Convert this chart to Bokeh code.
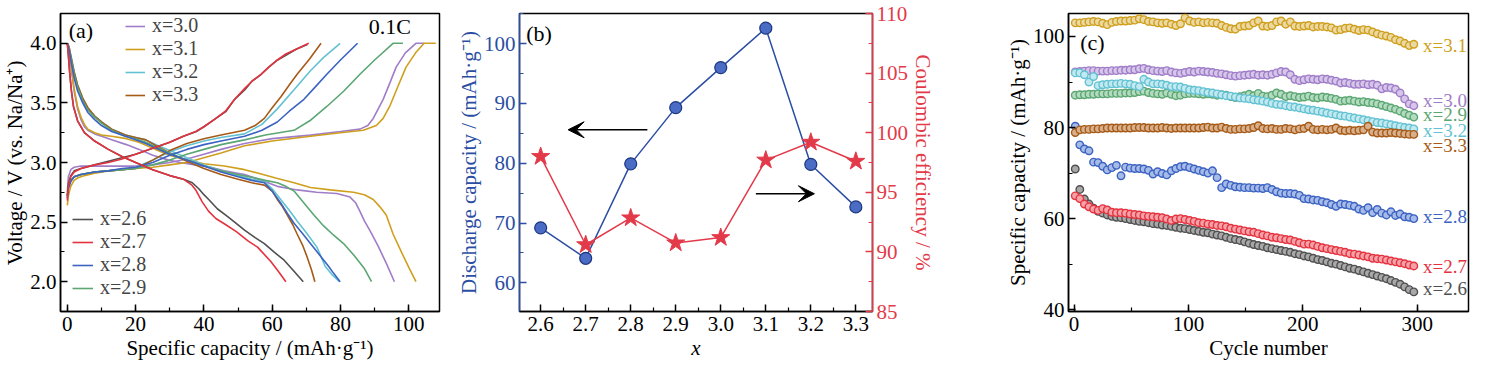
from bokeh.plotting import figure
from bokeh.layouts import row
from bokeh.models import (Range1d, LinearAxis, SingleIntervalTicker, FixedTicker,
                          PrintfTickFormatter, Legend, LegendItem, Arrow, VeeHead)
from bokeh.core.properties import value
from bokeh.embed import file_html
from bokeh.resources import INLINE

FONT = "Liberation Serif"

# ---------------- data: panel (a) charge / discharge curves ----------------
series_a = ["2.6", "2.7", "2.8", "2.9", "3.0", "3.1", "3.2", "3.3"]

chg_cap_26 = [0, 0.3, 1, 2, 4, 8, 12, 16, 20, 25, 30, 34, 37.8, 40, 43, 46.5, 49, 52, 54, 56.8, 59, 61.6, 64, 67, 70.3]
chg_v_26 = [2.72, 2.82, 2.89, 2.93, 2.95, 2.98, 3.01, 3.04, 3.07, 3.12, 3.17, 3.22, 3.26, 3.30, 3.36, 3.43, 3.53, 3.61, 3.68, 3.74, 3.80, 3.86, 3.90, 3.95, 3.99]
chg_cap_27 = [0, 0.3, 1, 2, 4, 8, 12, 16, 20, 25, 30, 34, 37.6, 40, 43, 46.3, 49, 51.9, 54, 56.7, 59, 61.5, 64, 67, 70.7]
chg_v_27 = [2.68, 2.80, 2.88, 2.92, 2.95, 2.98, 3.00, 3.03, 3.07, 3.12, 3.17, 3.22, 3.26, 3.30, 3.36, 3.43, 3.53, 3.62, 3.68, 3.74, 3.80, 3.86, 3.91, 3.95, 4.00]
chg_cap_28 = [0, 0.3, 1, 2, 4, 8, 12, 16, 20, 25, 30, 35, 40, 45, 51.9, 57, 61.5, 65, 69.3, 72.5, 76, 80, 85]
chg_v_28 = [2.70, 2.78, 2.84, 2.88, 2.90, 2.92, 2.93, 2.95, 2.96, 3.00, 3.06, 3.11, 3.15, 3.18, 3.22, 3.27, 3.34, 3.43, 3.53, 3.63, 3.74, 3.86, 4.00]
chg_cap_29 = [0, 0.3, 1, 2, 4, 8, 12, 16, 20, 25, 30, 35, 40, 45, 51.9, 58, 66.4, 71, 76, 81, 85.7, 90, 95.4, 98.3]
chg_v_29 = [2.72, 2.80, 2.85, 2.88, 2.90, 2.92, 2.93, 2.94, 2.95, 2.98, 3.02, 3.07, 3.11, 3.15, 3.19, 3.23, 3.27, 3.35, 3.47, 3.60, 3.74, 3.86, 4.00, 4.00]
chg_cap_30 = [0, 0.3, 1, 2, 4, 8, 12, 16, 20, 25, 30, 35, 40, 45, 51.9, 60, 71.2, 80, 85.7, 88, 89.6, 92.5, 94.5, 96.3, 99, 102.1, 104.5]
chg_v_30 = [2.75, 2.88, 2.94, 2.96, 2.97, 2.97, 2.97, 2.97, 2.97, 2.98, 3.00, 3.03, 3.07, 3.11, 3.16, 3.20, 3.23, 3.26, 3.28, 3.31, 3.37, 3.53, 3.67, 3.80, 3.92, 4.00, 4.00]
chg_cap_31 = [0, 0.3, 1, 2, 3, 5, 8, 12, 16, 20, 25, 30, 35, 40, 45, 51.9, 60, 71.2, 80, 86.7, 90.5, 92.5, 94.4, 97, 99.2, 102, 104.5, 107.9]
chg_v_31 = [2.64, 2.72, 2.80, 2.85, 2.87, 2.89, 2.91, 2.93, 2.94, 2.95, 2.96, 2.98, 3.00, 3.04, 3.08, 3.14, 3.18, 3.22, 3.25, 3.27, 3.31, 3.37, 3.47, 3.65, 3.80, 3.92, 4.00, 4.00]
chg_cap_32 = [0, 0.3, 1, 2, 4, 8, 12, 16, 20, 25, 30, 35, 40, 45, 51.9, 57, 61.5, 66.4, 71.2, 75, 79.9]
chg_v_32 = [2.70, 2.78, 2.84, 2.88, 2.90, 2.92, 2.93, 2.94, 2.96, 3.02, 3.09, 3.14, 3.18, 3.21, 3.24, 3.32, 3.45, 3.61, 3.77, 3.88, 4.00]
chg_cap_33 = [0, 0.3, 1, 2, 4, 8, 12, 16, 20, 25, 30, 35, 40, 45, 51.9, 55, 57.7, 60, 62.5, 65, 67.3, 71, 74.3]
chg_v_33 = [2.72, 2.80, 2.85, 2.88, 2.90, 2.92, 2.93, 2.94, 2.95, 3.02, 3.10, 3.16, 3.20, 3.23, 3.27, 3.31, 3.37, 3.46, 3.55, 3.65, 3.74, 3.87, 4.00]

dis_cap_26 = [0, 0.3, 0.7, 1.2, 1.8, 3, 5, 8, 12, 16, 20, 25, 30, 34, 36.6, 38.5, 40, 41.4, 44, 46.3, 49, 52, 55, 57.7, 60.5, 63.5, 66, 69.1]
dis_v_26 = [4.00, 3.90, 3.75, 3.60, 3.47, 3.35, 3.25, 3.18, 3.11, 3.05, 3.00, 2.94, 2.89, 2.86, 2.83, 2.78, 2.73, 2.69, 2.61, 2.56, 2.50, 2.43, 2.37, 2.32, 2.25, 2.18, 2.10, 2.00]
dis_cap_27 = [0, 0.3, 0.7, 1.2, 1.8, 3, 5, 8, 12, 16, 20, 25, 30, 34, 36.5, 37.6, 39.5, 41.4, 43.5, 46.3, 49.5, 53, 55.7, 59.6, 62, 64]
dis_v_27 = [4.00, 3.90, 3.75, 3.60, 3.47, 3.35, 3.25, 3.18, 3.11, 3.05, 3.00, 2.94, 2.89, 2.86, 2.81, 2.77, 2.67, 2.59, 2.53, 2.48, 2.42, 2.34, 2.29, 2.17, 2.08, 2.00]
dis_cap_28 = [0, 0.5, 1, 2, 3, 4.5, 6, 8, 10, 13, 17, 20, 23, 26, 30, 35, 40, 45, 50, 54, 57.7, 60, 62.5, 64.5, 66.4, 69, 71.2, 74, 76.5, 78, 79.9]
dis_v_28 = [4.00, 3.95, 3.86, 3.71, 3.60, 3.50, 3.42, 3.36, 3.31, 3.26, 3.22, 3.19, 3.16, 3.12, 3.07, 3.02, 2.97, 2.92, 2.88, 2.85, 2.83, 2.76, 2.66, 2.57, 2.49, 2.40, 2.32, 2.22, 2.13, 2.07, 2.00]
dis_cap_29 = [0, 0.5, 1, 2, 3, 4.5, 6, 8, 10, 13, 17, 20, 23, 26, 30, 35, 40, 45, 50, 55, 58, 61.5, 64, 66.4, 69, 72.2, 75, 78, 80.9, 84, 87, 89.1]
dis_v_29 = [4.00, 3.96, 3.88, 3.74, 3.63, 3.52, 3.44, 3.38, 3.33, 3.27, 3.22, 3.20, 3.17, 3.13, 3.08, 3.02, 2.97, 2.93, 2.90, 2.87, 2.85, 2.83, 2.80, 2.76, 2.67, 2.56, 2.47, 2.39, 2.32, 2.22, 2.11, 2.00]
dis_cap_30 = [0, 0.5, 1, 2, 3, 4, 5, 6, 8, 10, 13, 17.3, 21, 25, 29.7, 33, 37.4, 42, 46, 51.9, 56, 61.5, 67.3, 73, 78.9, 82.8, 84.5, 85.7, 87, 88.6, 91, 93.5, 95.8]
dis_v_30 = [4.00, 3.93, 3.82, 3.60, 3.45, 3.36, 3.30, 3.27, 3.24, 3.22, 3.19, 3.15, 3.11, 3.06, 3.02, 3.00, 2.98, 2.96, 2.93, 2.90, 2.86, 2.80, 2.77, 2.75, 2.74, 2.71, 2.66, 2.59, 2.51, 2.43, 2.30, 2.15, 2.00]
dis_cap_31 = [0, 0.5, 1, 2, 3, 4, 5, 6, 8, 10, 13, 17.3, 21, 25.8, 30, 35, 40, 46, 51.9, 56, 61, 66.4, 71.2, 77, 83.8, 87, 89.6, 91.5, 93.4, 95.4, 98, 100, 102.1]
dis_v_31 = [4.00, 3.94, 3.84, 3.62, 3.47, 3.38, 3.32, 3.28, 3.25, 3.23, 3.22, 3.20, 3.17, 3.11, 3.06, 3.02, 2.99, 2.97, 2.94, 2.91, 2.87, 2.83, 2.79, 2.77, 2.75, 2.73, 2.69, 2.63, 2.56, 2.40, 2.24, 2.12, 2.00]
dis_cap_32 = [0, 0.5, 1, 2, 3, 4.5, 6, 8, 10, 13, 17, 20, 23, 26, 30, 35, 40, 45, 50, 54, 57.7, 60, 62.5, 65, 67.3, 70, 73.1, 75.5, 77.5, 79.7]
dis_v_32 = [4.00, 3.97, 3.90, 3.76, 3.65, 3.54, 3.46, 3.39, 3.34, 3.28, 3.23, 3.21, 3.19, 3.15, 3.10, 3.04, 2.98, 2.93, 2.89, 2.86, 2.84, 2.78, 2.69, 2.60, 2.51, 2.41, 2.29, 2.13, 2.06, 2.00]
dis_cap_33 = [0, 0.5, 1, 2, 3, 4.5, 6, 8, 10, 13, 17, 20, 23, 26, 30, 35, 40, 45, 50, 54, 57.7, 60, 61.5, 63, 64.4, 66, 67.3, 69, 70.2, 71.5, 72.5]
dis_v_33 = [4.00, 3.97, 3.90, 3.76, 3.65, 3.54, 3.46, 3.39, 3.34, 3.28, 3.23, 3.21, 3.19, 3.14, 3.08, 3.01, 2.95, 2.90, 2.86, 2.83, 2.81, 2.76, 2.69, 2.63, 2.56, 2.48, 2.40, 2.30, 2.21, 2.10, 2.00]

# ---------------- data: panel (b) ----------------
x_b = [2.6, 2.7, 2.8, 2.9, 3.0, 3.1, 3.2, 3.3]
discharge_capacity = [69.2, 64.1, 79.9, 89.3, 96.0, 102.6, 79.8, 72.7]
coulombic_eff = [98.0, 90.6, 92.85, 90.75, 91.2, 97.7, 99.2, 97.6]

# ---------------- data: panel (c) cycling ----------------
cycles = list(range(1, 298, 4))
cyc_26 = [70.9, 66.4, 64.3, 63.2, 62.3, 61.6, 61.2, 60.8, 60.5, 60.3, 60.2, 60.0, 59.8, 59.6, 59.4, 59.3, 59.1, 58.9, 58.8, 58.6,
          58.5, 58.3, 58.1, 57.9, 57.8, 57.6, 57.4, 57.2, 57.0, 56.9, 56.6, 56.4, 56.2, 55.9, 55.6, 55.4, 55.2, 54.9, 54.6, 54.3,
          54.1, 53.9, 53.6, 53.4, 53.2, 53.0, 52.8, 52.6, 52.3, 52.1, 51.8, 51.6, 51.3, 51.0, 50.8, 50.5, 50.2, 50.0, 49.7, 49.4,
          49.1, 48.9, 48.6, 48.3, 48.0, 47.7, 47.4, 47.1, 46.8, 46.4, 46.0, 45.6, 45.0, 44.4, 43.9]
cyc_27 = [65.0, 64.4, 63.2, 62.6, 62.1, 61.8, 62.2, 61.9, 61.4, 61.3, 61.3, 61.2, 61.0, 60.9, 60.8, 60.6, 60.5, 60.4, 60.3, 60.2,
          59.9, 59.6, 59.9, 60.0, 59.8, 59.6, 59.4, 59.1, 59.0, 58.8, 58.7, 58.5, 58.4, 58.2, 57.9, 57.7, 57.5, 57.3, 57.1, 57.0,
          56.7, 56.4, 56.2, 55.9, 55.8, 55.6, 55.4, 55.3, 55.0, 54.7, 54.4, 54.4, 54.2, 53.9, 53.6, 53.4, 53.2, 53.0, 52.8, 52.6,
          52.3, 52.2, 52.0, 51.8, 51.6, 51.3, 51.2, 51.1, 50.9, 50.7, 50.5, 50.3, 50.1, 49.8, 49.6]
cyc_28 = [80.3, 76.2, 75.3, 74.9, 72.4, 72.3, 71.5, 70.7, 71.2, 71.7, 69.4, 71.3, 71.1, 71.0, 71.0, 70.9, 70.6, 69.8, 70.3, 69.9,
          69.6, 70.5, 71.0, 71.4, 71.5, 71.2, 70.9, 70.6, 70.3, 70.0, 70.5, 69.0, 66.8, 67.6, 67.3, 67.0, 66.9, 66.8, 66.8, 66.7,
          66.7, 66.6, 66.8, 66.4, 65.9, 65.6, 65.5, 65.5, 65.4, 65.1, 64.4, 64.3, 64.1, 64.0, 63.7, 63.5, 63.1, 62.7, 63.2, 63.1,
          62.9, 62.7, 62.1, 61.8, 62.4, 61.3, 62.0, 61.2, 60.8, 61.5, 60.7, 61.0, 60.4, 60.3, 60.0]
cyc_29 = [87.1, 87.2, 87.2, 87.3, 87.3, 87.4, 87.4, 87.4, 87.5, 87.5, 87.5, 87.6, 87.6, 87.7, 87.9, 88.0, 87.7, 87.5, 87.4, 87.3,
          87.6, 87.3, 87.0, 87.1, 87.4, 87.5, 87.5, 87.4, 87.3, 87.4, 87.3, 87.1, 87.2, 87.1, 86.8, 86.6, 86.8, 87.0, 87.3, 87.0,
          87.5, 86.9, 86.8, 87.1, 87.6, 87.3, 86.8, 87.0, 86.8, 86.6, 86.7, 86.9, 86.6, 86.5, 86.7, 86.6, 86.4, 86.2, 85.8, 85.9,
          86.0, 85.8, 85.6, 85.7, 85.5, 85.4, 85.2, 84.9, 84.6, 84.3, 84.0, 83.6, 83.1, 82.7, 82.3]
cyc_30 = [92.2, 92.3, 92.4, 92.5, 92.5, 92.4, 92.4, 92.4, 92.5, 92.5, 92.6, 92.6, 92.7, 92.7, 92.9, 93.0, 92.7, 92.5, 92.4, 92.3,
          92.5, 92.2, 92.0, 91.9, 92.1, 92.3, 92.2, 92.4, 92.3, 92.2, 92.1, 91.9, 91.8, 91.6, 91.4, 91.3, 91.4, 91.5, 91.6, 91.7,
          91.5, 91.6, 91.5, 91.7, 92.0, 92.3, 92.2, 91.6, 90.6, 90.3, 90.5, 90.7, 90.6, 90.5, 90.7, 90.6, 90.4, 90.2, 89.8, 89.9,
          89.7, 89.5, 89.5, 89.6, 89.4, 89.5, 89.3, 88.5, 88.8, 88.7, 88.4, 87.6, 86.3, 85.2, 84.8]
cyc_31 = [103.0, 103.0, 103.1, 103.2, 103.3, 103.2, 102.9, 102.6, 103.1, 103.3, 103.4, 103.4, 103.5, 103.6, 103.9, 103.7, 103.3, 103.2, 103.0, 102.9,
          103.0, 102.7, 102.4, 102.8, 104.1, 103.4, 103.1, 103.2, 103.0, 103.1, 103.0, 102.9, 102.4, 102.0, 101.7, 101.6, 102.2, 102.3, 102.4, 103.0,
          103.4, 102.3, 102.2, 102.4, 103.2, 103.4, 102.7, 103.2, 102.3, 102.2, 102.3, 102.4, 102.1, 102.2, 102.2, 102.1, 101.9, 101.4, 101.5, 101.8,
          101.9, 101.6, 101.3, 101.5, 101.4, 101.0, 100.6, 100.3, 100.1, 99.8, 99.3, 99.0, 98.5, 98.0, 98.3]
cyc_32 = [92.0, 92.0, 91.6, 90.0, 91.2, 89.2, 89.4, 89.5, 89.6, 89.6, 89.7, 89.6, 89.5, 89.2, 89.0, 90.6, 90.0, 89.6, 89.6, 89.5,
          89.3, 89.0, 89.0, 88.9, 88.6, 88.3, 88.2, 88.1, 87.9, 87.7, 87.6, 87.4, 87.2, 87.0, 86.9, 86.7, 86.5, 86.4, 86.3, 86.1,
          86.0, 85.8, 85.6, 85.3, 85.1, 85.0, 84.8, 84.6, 84.5, 84.3, 84.1, 83.9, 83.8, 83.6, 83.4, 83.2, 83.0, 82.8, 82.6, 82.5,
          82.3, 82.1, 81.9, 81.7, 81.5, 81.3, 81.1, 81.0, 80.8, 80.6, 80.4, 80.2, 80.0, 79.9, 79.7]
cyc_33 = [78.9, 79.5, 79.6, 79.6, 79.7, 79.7, 79.8, 79.9, 79.9, 79.9, 79.9, 79.9, 79.9, 80.0, 80.0, 80.0, 79.9, 79.9, 79.9, 80.0,
          79.9, 79.8, 79.9, 79.9, 79.9, 79.9, 79.9, 79.9, 80.0, 80.1, 79.9, 79.9, 80.1, 79.8, 79.6, 79.6, 79.7, 79.7, 79.8, 80.0,
          80.4, 79.8, 79.7, 79.8, 79.6, 79.6, 79.8, 79.7, 79.5, 79.7, 79.8, 80.3, 79.6, 79.5, 79.6, 79.5, 79.6, 79.9, 79.4, 79.3,
          79.4, 79.3, 79.4, 79.5, 80.3, 79.0, 78.8, 78.8, 78.8, 78.9, 78.8, 78.7, 78.6, 78.5, 78.5]

colors = {"2.6": "#505050", "2.7": "#e5323f", "2.8": "#3c63c2", "2.9": "#5ba672",
          "3.0": "#a07dc8", "3.1": "#cf9f1e", "3.2": "#62c2d3", "3.3": "#a65a17"}
tints = {"2.6": "#a8a8a8", "2.7": "#f4a2a8", "2.8": "#a7bbe8", "2.9": "#b3dbbf",
         "3.0": "#d6c6ea", "3.1": "#ecd9a2", "3.2": "#c2e9ef", "3.3": "#d9b08c"}

BLUE = "#2b4ea3"
RED = "#e33a4a"
FS = "21px"


def style(p):
    for ax in p.axis:
        ax.major_tick_in = 7
        ax.major_tick_out = 0
        ax.minor_tick_in = 4
        ax.minor_tick_out = 0
        ax.axis_line_width = 1.5
        ax.major_tick_line_width = 1.5
        ax.minor_tick_line_width = 1.2
        ax.major_label_text_font = FONT
        ax.major_label_text_font_size = FS
        ax.major_label_text_color = "black"
        ax.axis_label_text_font = FONT
        ax.axis_label_text_font_size = FS
        ax.axis_label_text_font_style = "normal"
        ax.axis_label_text_color = "black"
        ax.major_label_standoff = 4
        ax.axis_label_standoff = 0
    for ax in p.xaxis:
        ax.major_label_standoff = 5
        ax.axis_label_standoff = 2
    p.xgrid.visible = False
    p.ygrid.visible = False
    p.outline_line_color = "black"
    p.outline_line_width = 1.5
    p.outline_line_alpha = 1.0
    p.background_fill_color = "white"
    p.border_fill_color = "white"


def make_fig(w, xr, yr, bl, br, bt, bb):
    return figure(width=w, height=362, x_range=xr, y_range=yr, title=None,
                  output_backend="svg", toolbar_location=None,
                  min_border_left=bl, min_border_right=br, min_border_top=bt, min_border_bottom=bb)


# ---------------- panel (a) ----------------
p1 = make_fig(450, Range1d(-2, 109), Range1d(1.75, 4.25), 56, 11, 0, 45)
style(p1)
p1.xaxis.ticker = SingleIntervalTicker(interval=20, num_minor_ticks=2)
p1.yaxis.ticker = SingleIntervalTicker(interval=0.5, num_minor_ticks=2)
p1.yaxis.formatter = PrintfTickFormatter(format="%.1f")
p1.xaxis.axis_label = "Specific capacity / (mAh·g⁻¹)"
p1.yaxis.axis_label = "Voltage / V (vs. Na/Na⁺)"

curves = {
    "2.6": (chg_cap_26, chg_v_26, dis_cap_26, dis_v_26),
    "2.7": (chg_cap_27, chg_v_27, dis_cap_27, dis_v_27),
    "2.8": (chg_cap_28, chg_v_28, dis_cap_28, dis_v_28),
    "2.9": (chg_cap_29, chg_v_29, dis_cap_29, dis_v_29),
    "3.0": (chg_cap_30, chg_v_30, dis_cap_30, dis_v_30),
    "3.1": (chg_cap_31, chg_v_31, dis_cap_31, dis_v_31),
    "3.2": (chg_cap_32, chg_v_32, dis_cap_32, dis_v_32),
    "3.3": (chg_cap_33, chg_v_33, dis_cap_33, dis_v_33),
}
renderers = {}
for key in ["3.0", "3.1", "3.2", "3.3", "2.9", "2.8", "2.6", "2.7"]:
    cc, cv, dc, dv = curves[key]
    r = p1.line(cc, cv, line_color=colors[key], line_width=1.6)
    p1.line(dc, dv, line_color=colors[key], line_width=1.6)
    renderers[key] = r

leg_kw = dict(border_line_alpha=0, background_fill_alpha=0, label_text_font=FONT,
              label_text_font_size="20px", glyph_height=20, label_height=20, spacing=0,
              padding=0, margin=0, label_standoff=7)
leg1 = Legend(items=[LegendItem(label="x=" + k, renderers=[renderers[k]]) for k in ["3.0", "3.1", "3.2", "3.3"]],
              location=(65, 205), glyph_width=20, **leg_kw)
leg2 = Legend(items=[LegendItem(label="x=" + k, renderers=[renderers[k]]) for k in ["2.6", "2.7", "2.8", "2.9"]],
              location=(12, 12), glyph_width=21, **leg_kw)
p1.add_layout(leg1)
p1.add_layout(leg2)
p1.text(x=[0.4], y=[4.11], text=["(a)"], text_font=value(FONT), text_font_size="22px",
        text_baseline="middle", text_align="left", text_color="black")
p1.text(x=[100.6], y=[4.14], text=["0.1C"], text_font=value(FONT), text_font_size="22px",
        text_baseline="middle", text_align="right", text_color="black")

# ---------------- panel (b) ----------------
p2 = make_fig(522, Range1d(2.553, 3.337), Range1d(55.2, 105.05), 69, 100, 13, 45)
p2.extra_y_ranges = {"ce": Range1d(85, 110)}
ax_r = LinearAxis(y_range_name="ce")
p2.add_layout(ax_r, "right")
style(p2)
p2.xaxis.ticker = FixedTicker(ticks=x_b, minor_ticks=[2.65, 2.75, 2.85, 2.95, 3.05, 3.15, 3.25])
p2.xaxis.formatter = PrintfTickFormatter(format="%.1f")
p2.xaxis.axis_label = "x"
p2.xaxis.axis_label_text_font_style = "italic"
p2.yaxis[0].ticker = SingleIntervalTicker(interval=10, num_minor_ticks=2)
ax_r.ticker = SingleIntervalTicker(interval=5, num_minor_ticks=2)
ax_l = p2.yaxis[0]
ax_l.axis_label = "Discharge capacity / (mAh·g⁻¹)"
for a, c in ((ax_l, BLUE), (ax_r, RED)):
    a.axis_line_color = c
    a.major_tick_line_color = c
    a.minor_tick_line_color = c
    a.major_label_text_color = c
    a.axis_label_text_color = c
ax_r.axis_label = "Coulombic efficiency / %"

p2.line(x_b, discharge_capacity, line_color=BLUE, line_width=1.5)
p2.scatter(x_b, discharge_capacity, marker="circle", size=12, fill_color="#4a6cc4", line_color="#1d3680", line_width=1.2)
p2.line(x_b, coulombic_eff, line_color=RED, line_width=1.5, y_range_name="ce")
p2.scatter(x_b, coulombic_eff, marker="star", size=19, fill_color=RED, line_color=RED, y_range_name="ce")
p2.add_layout(Arrow(end=VeeHead(size=16, fill_color="black", line_color="black"),
                    x_start=2.837, y_start=85.6, x_end=2.661, y_end=85.6, line_width=1.5))
p2.add_layout(Arrow(end=VeeHead(size=16, fill_color="black", line_color="black"),
                    x_start=3.078, y_start=74.9, x_end=3.208, y_end=74.9, line_width=1.5))
p2.text(x=[2.568], y=[101.7], text=["(b)"], text_font=value(FONT), text_font_size="22px",
        text_baseline="middle", text_align="left", text_color="black")

# ---------------- panel (c) ----------------
p3 = make_fig(498, Range1d(-4.9, 344.8), Range1d(39.6, 105.05), 96, 2, 1, 45)
style(p3)
p3.xaxis.ticker = SingleIntervalTicker(interval=100, num_minor_ticks=2)
p3.yaxis.ticker = SingleIntervalTicker(interval=20, num_minor_ticks=2)
p3.xaxis.axis_label = "Cycle number"
p3.yaxis.axis_label = "Specific capacity / (mAh·g⁻¹)"

cyc_series = {"2.6": cyc_26, "2.7": cyc_27, "2.8": cyc_28, "2.9": cyc_29,
              "3.0": cyc_30, "3.1": cyc_31, "3.2": cyc_32, "3.3": cyc_33}
for key in ["2.6", "2.7", "2.8", "2.9", "3.0", "3.1", "3.2", "3.3"]:
    p3.scatter(cycles, cyc_series[key], marker="circle", size=7.5, fill_color=tints[key],
               line_color=colors[key], line_width=1.4)

end_lab_y = {"3.1": 98.1, "3.0": 86.0, "2.9": 82.8, "3.2": 79.4, "3.3": 76.1,
             "2.8": 60.4, "2.7": 49.4, "2.6": 44.6}
for key, yv in end_lab_y.items():
    p3.text(x=[305], y=[yv], text=["x=" + key], text_font=value(FONT), text_font_size="19px",
            text_baseline="middle", text_align="left", text_color=colors[key])
p3.text(x=[5.4], y=[98.7], text=["(c)"], text_font=value(FONT), text_font_size="22px",
        text_baseline="middle", text_align="left", text_color="black")

layout = row(p1, p2, p3, spacing=0)
open("out.html", "w").write(file_html(layout, INLINE))
